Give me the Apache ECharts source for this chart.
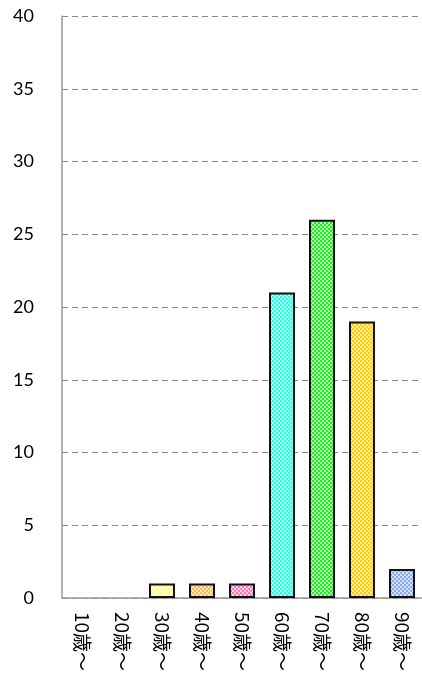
<!DOCTYPE html>
<html><head><meta charset="utf-8">
<script src="https://cdn.jsdelivr.net/npm/echarts@6/dist/echarts.min.js"></script>
<style>html,body{margin:0;padding:0;background:#fff}#c{width:422px;height:683px}</style>
</head><body><div id="c"></div>
<script>
const categories = ['10歳～','20歳～','30歳～','40歳～','50歳～','60歳～','70歳～','80歳～','90歳～'];
const values = [0, 0, 1, 1, 1, 21, 26, 19, 2];
const barColors = ['#cccccc','#cccccc','#ffff88','#ffbb55','#ff77bb','#22ffdd','#22ee22','#ffcc00','#88aaee'];
const yTicks = {min: 0, max: 40, interval: 5};

function checker(color) {
  const c = document.createElement('canvas');
  c.width = 4; c.height = 4;
  const g = c.getContext('2d');
  g.fillStyle = '#ffffff'; g.fillRect(0,0,4,4);
  g.fillStyle = color;
  g.fillRect(0,0,2,2); g.fillRect(2,2,2,2);
  g.globalAlpha = 0.35;
  g.fillRect(2,0,2,2); g.fillRect(0,2,2,2);
  return {image: c, repeat: 'repeat'};
}

const chart = echarts.init(document.getElementById('c'), null, {renderer: 'canvas'});
chart.setOption({
  animation: false,
  grid: {left: 62, right: 0, top: 16, bottom: 85},
  xAxis: {
    type: 'category', data: categories,
    axisLine: {lineStyle: {color: '#999', width: 1.5}},
    axisTick: {show: false},
    axisLabel: {rotate: -90, margin: 14, color: '#000', fontSize: 19, fontFamily: 'Noto Sans CJK JP', interval: 0}
  },
  yAxis: {
    type: 'value', min: yTicks.min, max: yTicks.max, interval: yTicks.interval,
    axisLine: {show: true, lineStyle: {color: '#999', width: 1.5}},
    axisTick: {show: false},
    axisLabel: {margin: 28, color: '#000', fontSize: 18, fontFamily: 'Lato'},
    splitLine: {lineStyle: {color: '#888', type: [6, 4], width: 1.2}}
  },
  series: [{
    type: 'bar', barWidth: 26,
    data: values.map((v, i) => ({value: v, itemStyle: {color: checker(barColors[i]), borderWidth: v === 0 ? 0 : 2}})),
    itemStyle: {borderColor: '#111', borderWidth: 2}
  }]
});
</script></body></html>
